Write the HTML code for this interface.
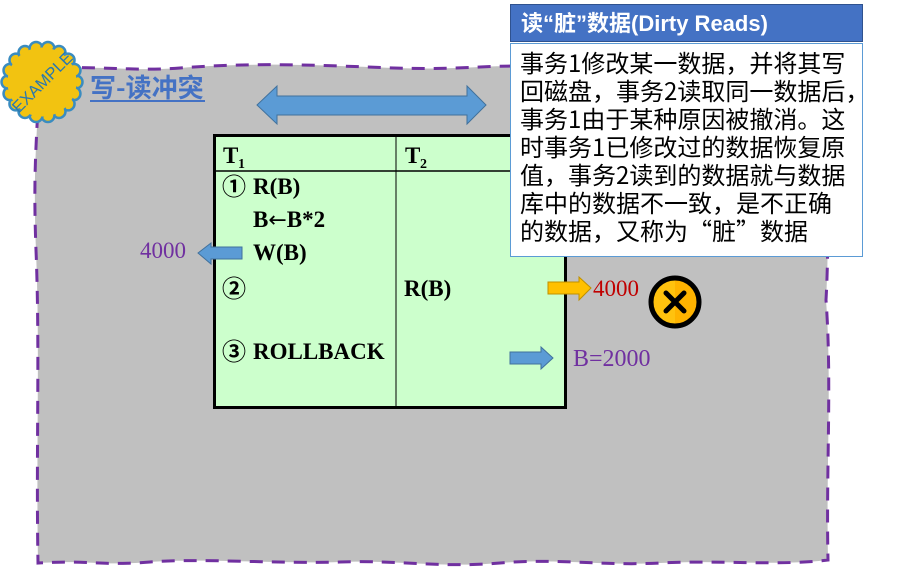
<!DOCTYPE html>
<html><head><meta charset="utf-8"><style>
html,body{margin:0;padding:0;background:#fff;}
body{width:898px;height:568px;overflow:hidden;}
svg{display:block;}
.serif{font-family:"Liberation Serif","Noto Serif CJK SC",serif;}
.cjk{font-family:"Liberation Sans","Noto Sans CJK SC",sans-serif;}
.cjk2{font-family:"Noto Sans CJK SC","Liberation Sans",sans-serif;}
</style></head><body>
<svg width="898" height="568" viewBox="0 0 898 568" xmlns="http://www.w3.org/2000/svg">
<!-- gray region -->
<path d="M38,70 C90,64 130,72 180,68 S280,64 340,66 S420,70 480,67 S700,66 828,68 C826,150 830,230 826,300 C832,380 826,470 828,560 C780,566 720,560 660,563 S560,558 500,563 S400,560 340,562 S200,558 150,562 S90,560 38,563 C36,450 40,350 36,250 S40,120 38,70 Z" fill="#C0C0C0" stroke="#7030A0" stroke-width="3" stroke-dasharray="13 9"/>

<!-- badge -->
<g transform="translate(42,82)">
<g fill="#F2C311" stroke="#3A8CC0" stroke-width="2.5">
<circle cx="34" cy="0" r="6.5"/><circle cx="31.96" cy="11.63" r="6.5"/><circle cx="26.04" cy="21.86" r="6.5"/><circle cx="17" cy="29.44" r="6.5"/><circle cx="5.92" cy="33.49" r="6.5"/><circle cx="-5.92" cy="33.49" r="6.5"/><circle cx="-17" cy="29.44" r="6.5"/><circle cx="-26.04" cy="21.86" r="6.5"/><circle cx="-31.96" cy="11.63" r="6.5"/><circle cx="-34" cy="0" r="6.5"/><circle cx="-31.96" cy="-11.63" r="6.5"/><circle cx="-26.04" cy="-21.86" r="6.5"/><circle cx="-17" cy="-29.44" r="6.5"/><circle cx="-5.92" cy="-33.49" r="6.5"/><circle cx="5.92" cy="-33.49" r="6.5"/><circle cx="17" cy="-29.44" r="6.5"/><circle cx="26.04" cy="-21.86" r="6.5"/><circle cx="31.96" cy="-11.63" r="6.5"/>
</g>
<circle cx="0" cy="0" r="34.5" fill="#F2C311"/>
<text x="0" y="6" transform="rotate(-45)" text-anchor="middle" font-family="Liberation Sans, sans-serif" font-size="16.5" fill="#2A78AE">EXAMPLE</text>
</g>

<!-- title -->
<text x="90" y="97" class="cjk2" font-size="26" font-weight="bold" fill="#4472C4">写-读冲突</text>
<rect x="90" y="100" width="115" height="2" fill="#4472C4"/>

<!-- double arrow -->
<polygon points="257,105 277,86 277,96 467,96 467,86 486,105 467,124 467,115 277,115 277,124" fill="#5B9BD5" stroke="#41719C" stroke-width="1"/>

<!-- table -->
<rect x="214.5" y="135.5" width="351" height="272" fill="#CCFFCC" stroke="#000" stroke-width="3"/>
<line x1="214" y1="171" x2="566" y2="171" stroke="#000" stroke-width="1.5"/>
<line x1="396" y1="136" x2="396" y2="407" stroke="#000" stroke-width="1"/>

<g class="serif" font-size="23" font-weight="bold" fill="#000">
<text x="223" y="163">T</text><text x="238" y="168" font-size="14">1</text>
<text x="405" y="163">T</text><text x="420" y="168" font-size="14">2</text>
<text x="253" y="194">R(B)</text>
<text x="253" y="227">B<tspan font-family="DejaVu Sans, sans-serif" font-weight="normal" font-size="22">←</tspan>B*2</text>
<text x="253" y="260">W(B)</text>
<text x="404" y="296">R(B)</text>
<text x="253" y="359">ROLLBACK</text>
</g>
<g font-family="Noto Sans CJK SC, sans-serif" font-size="24" font-weight="bold" fill="#000">
<text x="222" y="195">①</text>
<text x="222" y="297">②</text>
<text x="222" y="360">③</text>
</g>

<!-- left arrow + 4000 -->
<polygon points="198,253 211,243 211,247 242,247 242,259 211,259 211,264 198,253" fill="#5B9BD5" stroke="#41719C" stroke-width="1"/>
<text x="140" y="258" class="serif" font-size="23" fill="#7030A0">4000</text>

<!-- orange arrow -->
<polygon points="548,282 579,282 579,277 591,288 579,300 579,294 548,294" fill="#FFC000" stroke="#BF9000" stroke-width="1"/>
<text x="593" y="296" class="serif" font-size="23" fill="#C00000">4000</text>

<!-- x icon -->
<g transform="translate(675,302)">
<circle cx="0" cy="0" r="24" fill="#FFC20E"/>
<path d="M0,-24 A24,24 0 0 1 0,24 Z" fill="#FFB300"/>
<circle cx="0" cy="0" r="24" fill="none" stroke="#000" stroke-width="5"/>
<line x1="-9" y1="-9" x2="9" y2="9" stroke="#000" stroke-width="5" stroke-linecap="round"/>
<line x1="9" y1="-9" x2="-9" y2="9" stroke="#000" stroke-width="5" stroke-linecap="round"/>
</g>

<!-- right blue arrow -->
<polygon points="510,352 541,352 541,347 553,358 541,369 541,364 510,364" fill="#5B9BD5" stroke="#41719C" stroke-width="1"/>
<text x="573" y="366" class="serif" font-size="24" fill="#7030A0">B=2000</text>

<!-- callout -->
<rect x="510.5" y="4.5" width="352" height="37" fill="#4472C4" stroke="#2F528F" stroke-width="1"/>
<text x="521" y="31" class="cjk" font-size="22" font-weight="bold" fill="#fff">读“脏”数据(Dirty Reads)</text>
<rect x="510.5" y="43.5" width="352" height="213" fill="#fff" stroke="#5B9BD5" stroke-width="1"/>
<g class="cjk2" font-size="24" fill="#000">
<text x="520" y="72">事务1修改某一数据，并将其写</text>
<text x="520" y="100">回磁盘，事务2读取同一数据后，</text>
<text x="520" y="128">事务1由于某种原因被撤消。这</text>
<text x="520" y="156">时事务1已修改过的数据恢复原</text>
<text x="520" y="184">值，事务2读到的数据就与数据</text>
<text x="520" y="212">库中的数据不一致，是不正确</text>
<text x="520" y="240">的数据，又称为“脏”数据</text>
</g>
</svg>
</body></html>
